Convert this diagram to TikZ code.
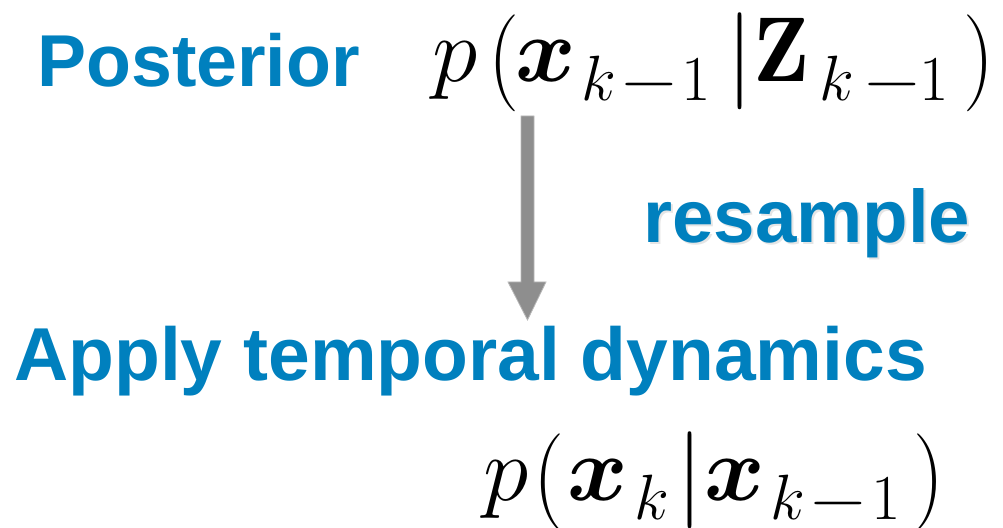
\RequirePackage{fix-cm}
\documentclass[tikz,border=0pt]{standalone}
\usepackage{amsmath}
\usepackage{bm}
\usepackage{graphicx}
\usepackage{fontspec}
\setsansfont{Liberation Sans}
\definecolor{titleblue}{HTML}{0080BE}
\definecolor{arrowgray}{HTML}{8E8E8E}
\definecolor{arrowedge}{HTML}{B8B8B8}
% glyph placed at a horizontal offset and vertical shift inside a formula
\newcommand\glyphat[3]{\rlap{\hspace*{#1pt}\raisebox{#2pt}{#3}}}
\newcommand\mainsz{\fontsize{92}{92}\selectfont}
\newcommand\subsz{\fontsize{64}{64}\selectfont}
\newcommand\delsz{\fontsize{97}{97}\selectfont}
\newcommand\subscr[3]{% offset k, offset minus, offset one
  \glyphat{#1}{-19}{\subsz$k$}%
  \ifx\relax#2\relax\else
  \glyphat{#2}{-19}{\subsz\scalebox{1.2}[1]{$-$}}%
  \glyphat{#3}{-19}{\subsz$1$}\fi}
\tikzset{
  label/.style={anchor=base west, inner sep=0pt, text=titleblue, font=\sffamily\bfseries\fontsize{#1}{80}\selectfont},
  label/.default=73.5,
  shadowlabel/.style={anchor=base west, inner sep=0pt, text=black, opacity=0.10, font=\sffamily\bfseries\fontsize{74.5}{80}\selectfont},
  formula/.style={anchor=base west, inner sep=0pt},
  bigarrow/.style={fill=arrowgray, draw=arrowedge, line width=0.8pt}
}
\begin{document}
\begin{tikzpicture}[x=1pt,y=1pt]
\useasboundingbox (0,0) rectangle (1003,527);
\node[label] (post) at (37,440) {Posterior};
\node[formula] (f1) at (420,445) {\hbox{%
  \glyphat{12}{0}{\mainsz$p$}%
  \glyphat{68}{-6}{\delsz\scalebox{0.9}[1]{(}}%
  \glyphat{95}{0}{\mainsz$\bm{x}$}%
  \subscr{161}{199}{261}%
  \glyphat{306}{-4}{\delsz$|$}%
  \glyphat{333}{0}{\mainsz$\mathbf{Z}$}%
  \subscr{399}{442}{499}%
  \glyphat{543}{-6}{\delsz\scalebox{0.9}[1]{)}}%
  \hspace*{565pt}}};
\node[shadowlabel] at (645,282) {resample};
\node[label=74.5] (res) at (643,284) {resample};
\node[label=75] (apply) at (14,146) {Apply temporal dynamics};
\node[formula] (f2) at (470,27) {\hbox{%
  \glyphat{13}{0}{\mainsz$p$}%
  \glyphat{63}{-6}{\delsz\scalebox{0.9}[1]{(}}%
  \glyphat{97}{0}{\mainsz$\bm{x}$}%
  \subscr{164}{}{}%
  \glyphat{206}{-4}{\delsz$|$}%
  \glyphat{234}{0}{\mainsz$\bm{x}$}%
  \subscr{300}{338}{401}%
  \glyphat{443}{-6}{\delsz\scalebox{0.9}[1]{)}}%
  \hspace*{470pt}}};
\draw[bigarrow] (521,411) -- (534,411) -- (534,245) -- (546,245) -- (527.5,207) -- (508,245) -- (521,245) -- cycle;
\end{tikzpicture}
\end{document}
